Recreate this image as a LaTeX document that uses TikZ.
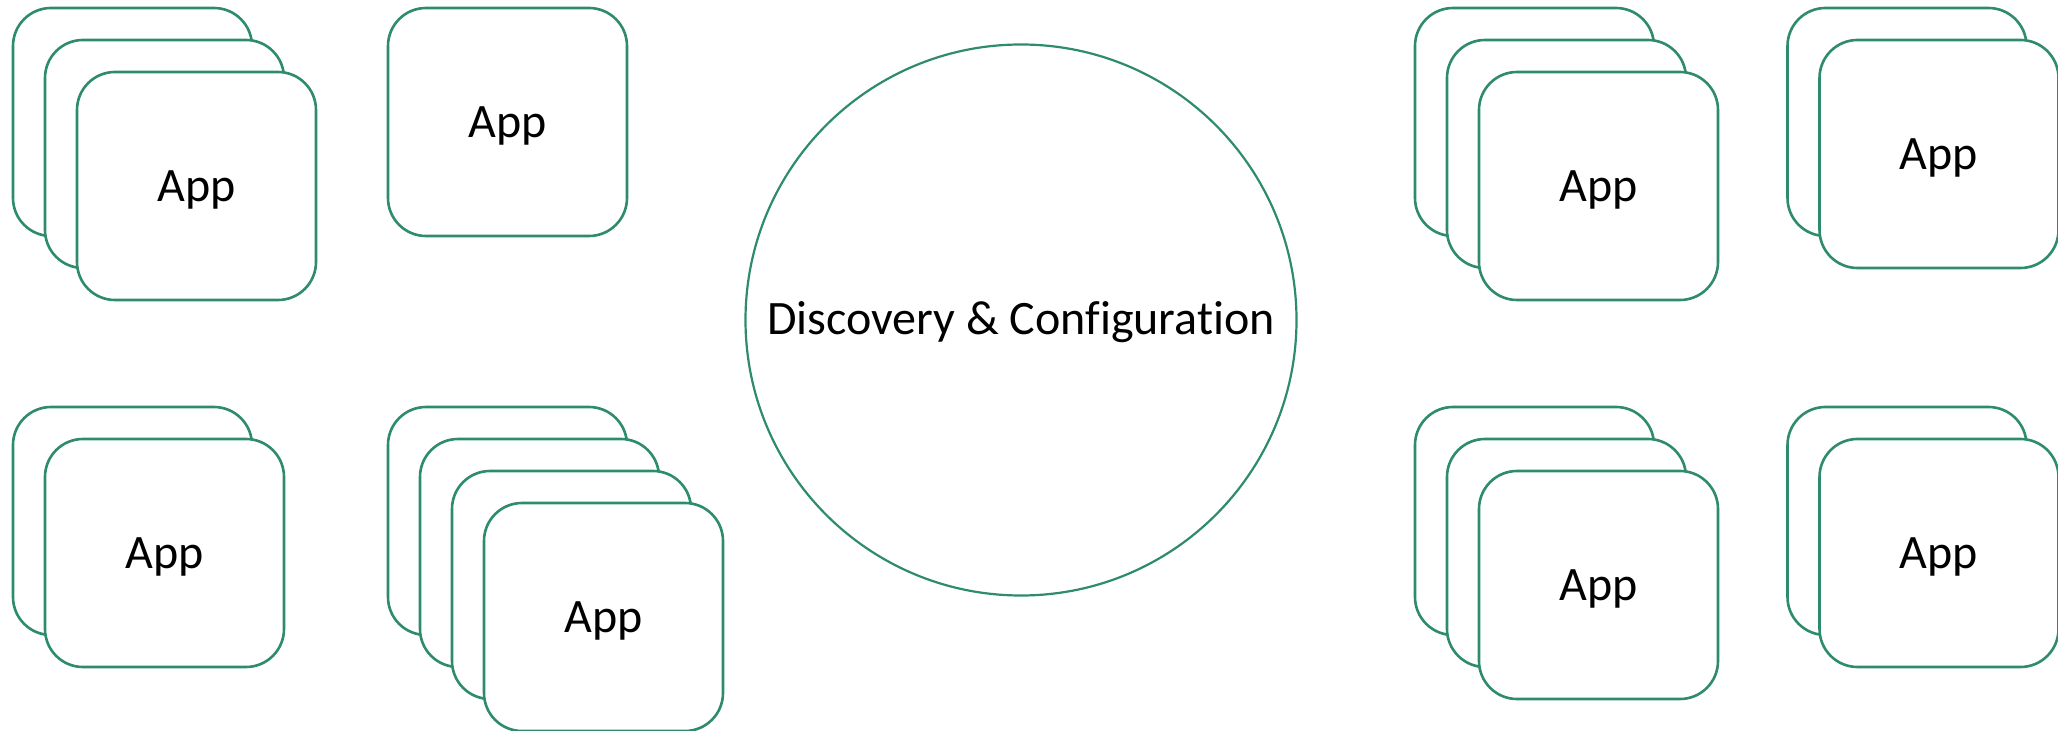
\documentclass[tikz,border=0pt]{standalone}
\usepackage{fontspec}
\setmainfont{Carlito}[Ligatures=NoCommon]
\usepackage{tikz}
\usetikzlibrary{positioning, shapes}
\definecolor{appgreen}{HTML}{2E8B6E}
\tikzstyle{card} = [rectangle, draw=appgreen, fill=white, line width=1.3pt,
    rounded corners=19pt, minimum width=119.5pt, minimum height=114pt,
    inner sep=0pt, text depth=0pt, font=\fontsize{24}{29}\selectfont]
\tikzstyle{hub} = [circle, draw=appgreen, fill=white, line width=1.1pt,
    minimum size=275.5pt, inner sep=0pt, text depth=2.3pt,
    font=\fontsize{24}{29}\selectfont]
\tikzstyle{behind} = [on grid, below right=16pt and 16pt of #1]

\begin{document}
\begin{tikzpicture}[x=0.5pt, y=-0.5pt]
            \useasboundingbox (0,0) rectangle (2058,731);

            \node[hub] (discovery) at (1021,320) {Discovery \& Configuration};

            \node[card] (topleftA) at (132.5,122) {};
            \node[card, behind=topleftA] (topleftB) {};
            \node[card, behind=topleftB] (topleftC) {App};

            \node[card] (topsingle) at (507.5,122) {App};

            \node[card] (bottomleftA) at (132.5,521) {};
            \node[card, behind=bottomleftA] (bottomleftB) {App};

            \node[card] (bottommidA) at (507.5,521) {};
            \node[card, behind=bottommidA] (bottommidB) {};
            \node[card, behind=bottommidB] (bottommidC) {};
            \node[card, behind=bottommidC] (bottommidD) {App};

            \node[card] (toprightA) at (1534.5,122) {};
            \node[card, behind=toprightA] (toprightB) {};
            \node[card, behind=toprightB] (toprightC) {App};

            \node[card] (farrightA) at (1907,122) {};
            \node[card, behind=farrightA] (farrightB) {App};

            \node[card] (bottomrightA) at (1534.5,521) {};
            \node[card, behind=bottomrightA] (bottomrightB) {};
            \node[card, behind=bottomrightB] (bottomrightC) {App};

            \node[card] (bottomfarA) at (1907,521) {};
            \node[card, behind=bottomfarA] (bottomfarB) {App};
      \end{tikzpicture}
\end{document}
